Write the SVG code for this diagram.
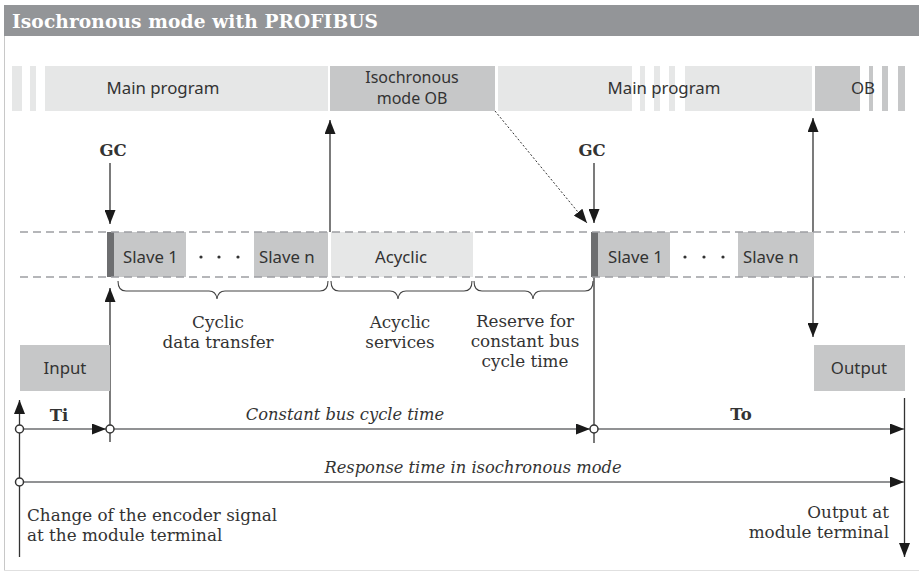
<svg xmlns="http://www.w3.org/2000/svg" width="919" height="572" viewBox="0 0 919 572">
<defs>
<style>
.sans{font-family:"Noto Sans","Open Sans","DejaVu Sans",sans-serif;font-size:16.8px;fill:#333}
.sm{font-size:16px}
.serif{font-family:"DejaVu Serif","Liberation Serif",serif;font-size:16.8px;fill:#333}
.b{font-weight:bold;font-size:16.5px}
.i{font-style:italic;font-size:16.3px}
.mid{text-anchor:middle}
.end{text-anchor:end}
.light{fill:#e6e7e7}
.mgray{fill:#c6c7c8}
.dark{fill:#6d6e70}
.ln{stroke:#333;stroke-width:1.3;fill:none}
.tl{stroke:#6d6e70;stroke-width:1.5;fill:none}
.bus{stroke:#9d9fa2;stroke-width:1.6;stroke-dasharray:8 5;fill:none}
.brace{stroke:#444;stroke-width:1.1;fill:none}
.dot{fill:#fff;stroke:#333;stroke-width:1.5}
</style>
<marker id="ah" viewBox="0 0 14 11" refX="14" refY="5.5" markerWidth="14" markerHeight="11" markerUnits="userSpaceOnUse" orient="auto-start-reverse">
<path d="M0,0 L14,5.5 L0,11 z" fill="#1a1a1a"/>
</marker>
</defs>
<rect width="919" height="572" fill="#fff"/>
<g id="frame">
<rect x="4" y="5" width="915" height="31" fill="#939598"/>
<line x1="4.5" y1="36" x2="4.5" y2="570.5" stroke="#c8c8c8" stroke-width="1"/>
<line x1="4" y1="570.5" x2="919" y2="570.5" stroke="#e0e0e0" stroke-width="1"/>
<text x="12" y="28" font-family="'DejaVu Serif','Liberation Serif',serif" font-size="18.6" font-weight="bold" fill="#fff" textLength="366">Isochronous mode with PROFIBUS</text>
</g>
<g id="program-bar">
<rect class="light" x="12" y="66" width="10" height="45"/>
<rect class="light" x="30" y="66" width="6" height="45"/>
<g id="main-program-1"><rect class="light" x="45" y="66" width="283" height="45"/><text class="sans mid" x="163" y="94">Main program</text></g>
<g id="iso-ob"><rect class="mgray" x="330" y="66" width="165" height="45"/><text class="sans sm mid" x="412" y="83">Isochronous</text><text class="sans sm mid" x="412" y="104">mode OB</text></g>
<g id="main-program-2"><rect class="light" x="498" y="66" width="134" height="45"/>
<rect class="light" x="640" y="66" width="5" height="45"/>
<rect class="light" x="654" y="66" width="6" height="45"/>
<rect class="light" x="669" y="66" width="6" height="45"/>
<rect class="light" x="685" y="66" width="127" height="45"/><text class="sans mid" x="664" y="94">Main program</text></g>
<g id="ob-2"><rect class="mgray" x="815" y="66" width="45" height="45"/>
<rect class="mgray" x="869" y="66" width="4" height="45"/>
<rect class="mgray" x="882" y="66" width="6" height="45"/>
<rect class="mgray" x="898" y="66" width="7" height="45"/><text class="sans" x="851" y="94">OB</text></g>
</g>
<g id="connectors">
<line class="ln" x1="330" y1="232" x2="330" y2="120" marker-end="url(#ah)"/>
<line class="ln" x1="110" y1="163" x2="110" y2="224" marker-end="url(#ah)"/>
<line class="ln" x1="594" y1="163" x2="594" y2="223" marker-end="url(#ah)"/>
<line x1="495" y1="111" x2="587" y2="223" stroke="#333" stroke-width="1" stroke-dasharray="2 2" marker-end="url(#ah)"/>
<line class="ln" x1="110" y1="442" x2="110" y2="288" marker-end="url(#ah)"/>
<line class="ln" x1="594" y1="277" x2="594" y2="443"/>
<line class="ln" x1="813" y1="337" x2="813" y2="118" marker-start="url(#ah)" marker-end="url(#ah)"/>
<line class="ln" x1="19.5" y1="557" x2="19.5" y2="400" marker-end="url(#ah)"/>
<line class="ln" x1="904.5" y1="398" x2="904.5" y2="557" marker-end="url(#ah)"/>
<line class="tl" x1="23.5" y1="429" x2="106" y2="429" marker-end="url(#ah)"/>
<line class="tl" x1="114" y1="429" x2="590" y2="429" marker-end="url(#ah)"/>
<line class="tl" x1="598" y1="429" x2="904" y2="429" marker-end="url(#ah)"/>
<line class="tl" x1="23.5" y1="482" x2="904" y2="482" marker-end="url(#ah)"/>
<circle class="dot" cx="19.5" cy="429" r="4"/>
<circle class="dot" cx="110" cy="429" r="4"/>
<circle class="dot" cx="594" cy="429" r="4"/>
<circle class="dot" cx="19.5" cy="482" r="4"/>
<path class="brace" d="M118,281 Q118,291 126,291 L209,291 Q216,291 217,299 Q218,291 225,291 L320,291 Q328,291 328,281"/>
<path class="brace" d="M331,281 Q331,291 339,291 L390,291 Q397,291 398,299 Q399,291 406,291 L464,291 Q472,291 472,281"/>
<path class="brace" d="M474,281 Q474,291 482,291 L525,291 Q532,291 533,299 Q534,291 541,291 L585,291 Q593,291 593,281"/>
</g>
<g id="bus">
<g id="gc-marker-1"><rect class="dark" x="107" y="232" width="7" height="45"/></g>
<g id="slave1-a"><rect class="mgray" x="114" y="232" width="72" height="45"/><text class="sans" x="123" y="263">Slave 1</text></g>
<g id="dots-a" fill="#333"><circle cx="201" cy="257" r="1.6"/><circle cx="219" cy="257" r="1.6"/><circle cx="238" cy="257" r="1.6"/></g>
<g id="slaven-a"><rect class="mgray" x="254" y="232" width="74" height="45"/><text class="sans" x="259" y="263">Slave n</text></g>
<g id="acyclic"><rect class="light" x="331" y="232" width="142" height="45"/><text class="sans mid" x="401" y="263">Acyclic</text></g>
<g id="gc-marker-2"><rect class="dark" x="591" y="232" width="7" height="45"/></g>
<g id="slave1-b"><rect class="mgray" x="598" y="232" width="72" height="45"/><text class="sans" x="608" y="263">Slave 1</text></g>
<g id="dots-b" fill="#333"><circle cx="685" cy="257" r="1.6"/><circle cx="704" cy="257" r="1.6"/><circle cx="723" cy="257" r="1.6"/></g>
<g id="slaven-b"><rect class="mgray" x="738" y="232" width="76" height="45"/><text class="sans" x="743" y="263">Slave n</text></g>
<line class="bus" x1="20" y1="232" x2="905" y2="232"/>
<line class="bus" x1="20" y1="277" x2="905" y2="277"/>
</g>
<g id="input"><rect class="mgray" x="20" y="345" width="90" height="46"/><text class="sans mid" x="65" y="374">Input</text></g>
<g id="output"><rect class="mgray" x="814" y="345" width="91" height="46"/><text class="sans mid" x="859" y="374">Output</text></g>
<g id="labels">
<text class="serif b mid" x="113" y="156">GC</text>
<text class="serif b mid" x="592" y="156">GC</text>
<text class="serif mid" x="218" y="328">Cyclic</text>
<text class="serif mid" x="218" y="348">data transfer</text>
<text class="serif mid" x="400" y="328">Acyclic</text>
<text class="serif mid" x="400" y="348">services</text>
<text class="serif mid" x="525" y="327">Reserve for</text>
<text class="serif mid" x="525" y="347">constant bus</text>
<text class="serif mid" x="525" y="367">cycle time</text>
<text class="serif b mid" x="59" y="421">Ti</text>
<text class="serif b mid" x="741" y="420">To</text>
<text class="serif i mid" x="345" y="420">Constant bus cycle time</text>
<text class="serif i mid" x="473" y="473">Response time in isochronous mode</text>
<text class="serif" x="27" y="521">Change of the encoder signal</text>
<text class="serif" x="27" y="541">at the module terminal</text>
<text class="serif end" x="889" y="518">Output at</text>
<text class="serif end" x="889" y="538">module terminal</text>
</g>
</svg>
